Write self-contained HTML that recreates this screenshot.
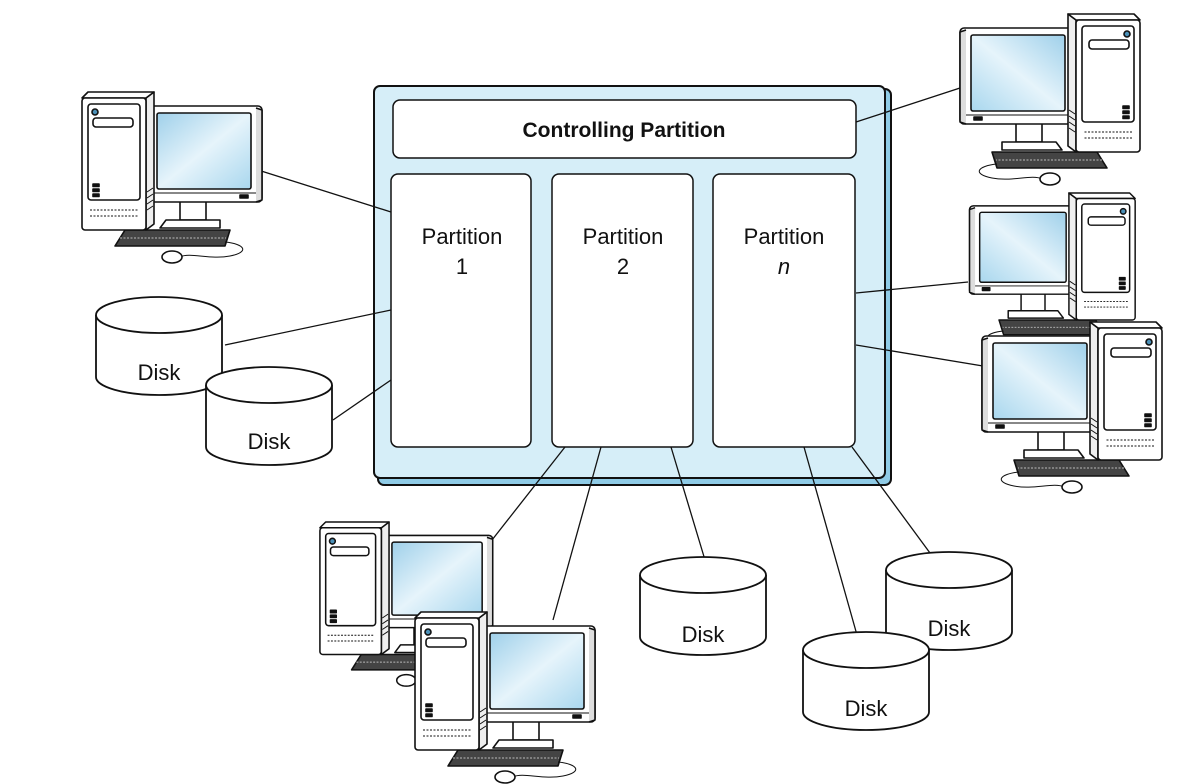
<!DOCTYPE html>
<html><head><meta charset="utf-8"><style>
html,body{margin:0;padding:0;background:#fff;}
svg{display:block;font-family:"Liberation Sans",Arial,sans-serif;}
</style></head><body>
<svg width="1192" height="784" viewBox="0 0 1192 784" xmlns="http://www.w3.org/2000/svg">
<defs>
<linearGradient id="scr" x1="0" y1="0" x2="1" y2="1">
<stop offset="0" stop-color="#9fd0ea"/><stop offset="0.5" stop-color="#e6f4fb"/><stop offset="1" stop-color="#a9d7ee"/>
</linearGradient>
<g id="pc" stroke="#111" stroke-width="1.6" fill="#fff" stroke-linejoin="round">
<path d="M45 138 L150 138 L145 154 L35 154 Z" fill="#444"/>
<path d="M40 146 L146 146" stroke="#bbb" stroke-width="1" stroke-dasharray="2 1.5"/>
<path d="M145 150 C165 152 170 160 150 164 C130 168 110 160 100 165" fill="none" stroke-width="1"/>
<ellipse cx="92" cy="165" rx="10" ry="6"/>
<rect x="100" y="108" width="26" height="20"/>
<path d="M86 128 L140 128 L140 136 L80 136 Z"/>
<rect x="70" y="14" width="112" height="96" rx="4"/>
<path d="M176 16 L182 18 L182 108 L176 110" fill="#ddd"/>
<rect x="77" y="21" width="94" height="76" rx="2" fill="url(#scr)"/>
<line x1="72" y1="101" x2="176" y2="101" stroke-width="1"/>
<rect x="160" y="103" width="8" height="3" fill="#111"/>
<path d="M66 6 L74 0 L74 132 L66 138 Z" fill="#eee"/>
<path d="M8 0 L74 0 L66 6 L2 6 Z" fill="#fff"/>
<rect x="2" y="6" width="64" height="132" rx="3"/>
<rect x="8" y="12" width="52" height="96" rx="3"/>
<circle cx="15" cy="20" r="3" fill="#4a90b8"/>
<rect x="13" y="26" width="40" height="9" rx="3"/>
<rect x="13" y="92" width="6" height="2.5" fill="#111"/>
<rect x="13" y="97" width="6" height="2.5" fill="#111"/>
<rect x="13" y="102" width="6" height="2.5" fill="#111"/>
<line x1="10" y1="118" x2="58" y2="118" stroke-width="1" stroke-dasharray="2 1.5"/>
<line x1="10" y1="124" x2="58" y2="124" stroke-width="1" stroke-dasharray="2 1.5"/>
<path d="M67 100 L73 96 M67 106 L73 102 M67 112 L73 108 M67 118 L73 114" stroke-width="1"/>
</g>
<g id="disk" stroke="#111" stroke-width="1.8" fill="#fff">
<path d="M0 18 L0 80 A63 18 0 0 0 126 80 L126 18"/>
<ellipse cx="63" cy="18" rx="63" ry="18"/>
</g>
</defs>

<!-- main box -->
<rect x="378" y="89" width="513" height="396" rx="6" fill="#8fcbe6" stroke="#111" stroke-width="2"/>
<rect x="374" y="86" width="511" height="392" rx="6" fill="#d6eef8" stroke="#111" stroke-width="2"/>
<rect x="393" y="100" width="463" height="58" rx="7" fill="#fff" stroke="#111" stroke-width="1.5"/>
<text x="624" y="137" text-anchor="middle" font-size="21" font-weight="bold" fill="#111">Controlling Partition</text>
<rect x="391" y="174" width="140" height="273" rx="7" fill="#fff" stroke="#111" stroke-width="1.5"/>
<rect x="552" y="174" width="141" height="273" rx="7" fill="#fff" stroke="#111" stroke-width="1.5"/>
<rect x="713" y="174" width="142" height="273" rx="7" fill="#fff" stroke="#111" stroke-width="1.5"/>
<g font-size="22" fill="#111" text-anchor="middle">
<text x="462" y="244">Partition</text><text x="462" y="274">1</text>
<text x="623" y="244">Partition</text><text x="623" y="274">2</text>
<text x="784" y="244">Partition</text><text x="784" y="274" font-style="italic">n</text>
</g>

<!-- connector lines -->
<g stroke="#111" stroke-width="1.3" fill="none">
<line x1="258" y1="170" x2="391" y2="212"/>
<line x1="225" y1="345" x2="391" y2="310"/>
<line x1="333" y1="420" x2="391" y2="380"/>
<line x1="856" y1="122" x2="960" y2="88"/>
<line x1="856" y1="293" x2="968" y2="282"/>
<line x1="856" y1="345" x2="995" y2="368"/>
<line x1="565" y1="447" x2="492" y2="540"/>
<line x1="601" y1="447" x2="553" y2="620"/>
<line x1="671" y1="447" x2="705" y2="560"/>
<line x1="804" y1="447" x2="857" y2="635"/>
<line x1="852" y1="447" x2="930" y2="553"/>
</g>

<!-- disks -->
<use href="#disk" x="96" y="297"/>
<use href="#disk" x="206" y="367"/>
<use href="#disk" x="640" y="557"/>
<use href="#disk" x="886" y="552"/>
<use href="#disk" x="803" y="632"/>
<g font-size="22" fill="#111" text-anchor="middle">
<text x="159" y="380">Disk</text>
<text x="269" y="449">Disk</text>
<text x="703" y="642">Disk</text>
<text x="949" y="636">Disk</text>
<text x="866" y="716">Disk</text>
</g>

<!-- computers -->
<use href="#pc" transform="translate(80,92)"/>
<use href="#pc" transform="translate(318,522) scale(0.96)"/>
<use href="#pc" transform="translate(413,612)"/>
<use href="#pc" transform="translate(1142,14) scale(-1,1)"/>
<use href="#pc" transform="translate(1137,193) scale(-0.92,0.92)"/>
<use href="#pc" transform="translate(1164,322) scale(-1,1)"/>
</svg>
</body></html>
